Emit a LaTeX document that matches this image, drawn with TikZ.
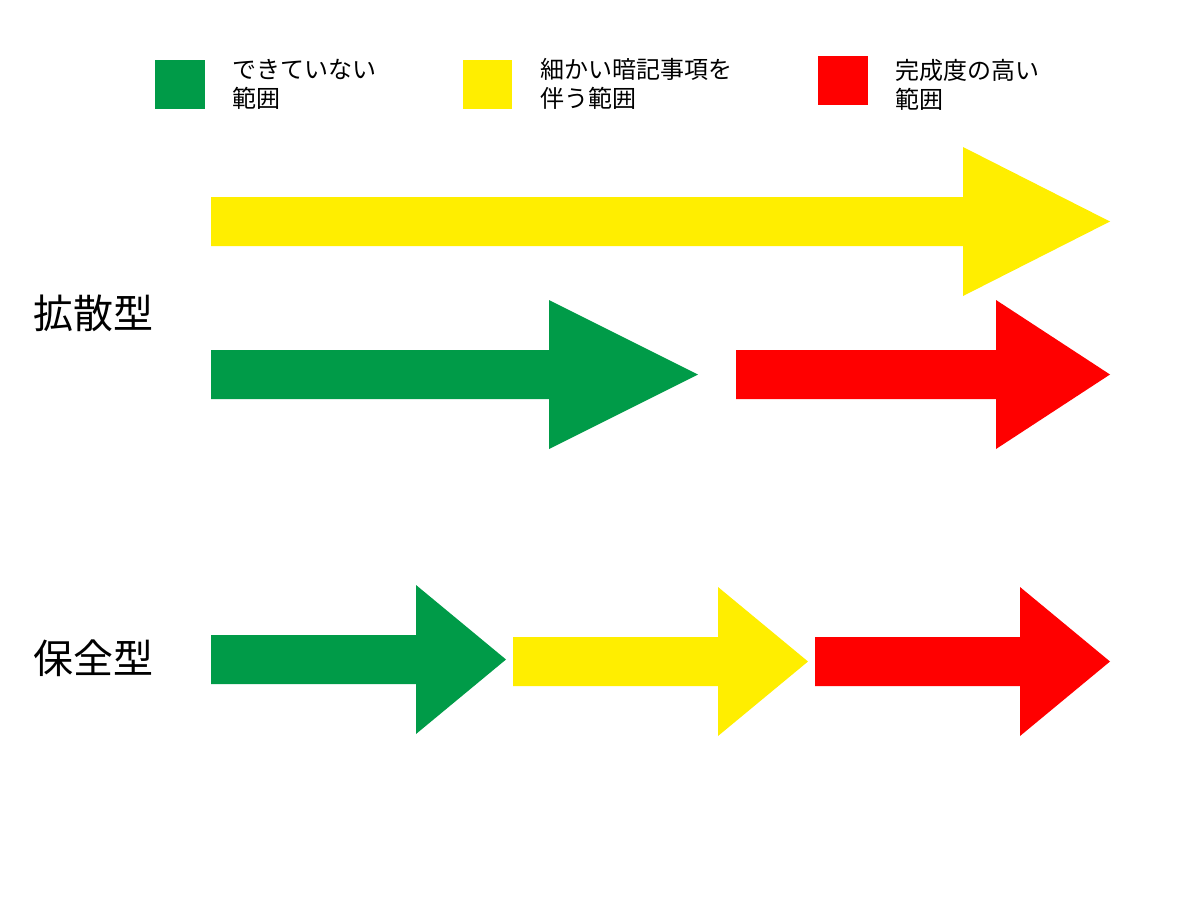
\documentclass[tikz,border=0pt]{standalone}
\usepackage{fontspec}
\setmainfont{Noto Sans CJK JP}
\usepackage{tikz}
\definecolor{RangeGreen}{HTML}{009B48}
\definecolor{RangeYellow}{HTML}{FFEE00}
\definecolor{RangeRed}{HTML}{FF0000}
% fat arrow: colour, shaft start, head start, tip, centre line
\newcommand{\fatarrow}[5]{%
  \fill[#1] (#2,#5-24.5) -- (#3,#5-24.5) -- (#3,#5-74.5) -- (#4,#5)
    -- (#3,#5+74.5) -- (#3,#5+24.5) -- (#2,#5+24.5) -- cycle;}

\begin{document}
\begin{tikzpicture}[x=1pt,y=-1pt]
    \useasboundingbox[fill=white] (0,0) rectangle (1200,900);
    \tikzset{legtext/.style={right,align=left,font=\fontsize{24}{29}\selectfont,inner sep=0pt},
      typelabel/.style={right,font=\fontsize{40}{44}\selectfont,inner sep=0pt}}

    % legend
    \fill[RangeGreen] (155,60) rectangle (205,109);
    \node[legtext] (legGreen) at (232,84) {できていない\\範囲};
    \fill[RangeYellow] (463,60) rectangle (512,109);
    \node[legtext] (legYellow) at (540,84) {細かい暗記事項を\\伴う範囲};
    \fill[RangeRed] (818,56) rectangle (868,105);
    \node[legtext] (legRed) at (895,85) {完成度の高い\\範囲};

    % spreading type
    \node[typelabel] (spread) at (33,313) {拡散型};
    \fatarrow{RangeYellow}{211}{963}{1110}{221.5}
    \fatarrow{RangeGreen}{211}{549}{698}{374.5}
    \fatarrow{RangeRed}{736}{996}{1110}{374.5}

    % conserving type
    \node[typelabel] (keep) at (33,658) {保全型};
    \fatarrow{RangeGreen}{211}{416}{506}{659.5}
    \fatarrow{RangeYellow}{513}{718}{808}{661.5}
    \fatarrow{RangeRed}{815}{1020}{1110}{661.5}
  \end{tikzpicture}
\end{document}
